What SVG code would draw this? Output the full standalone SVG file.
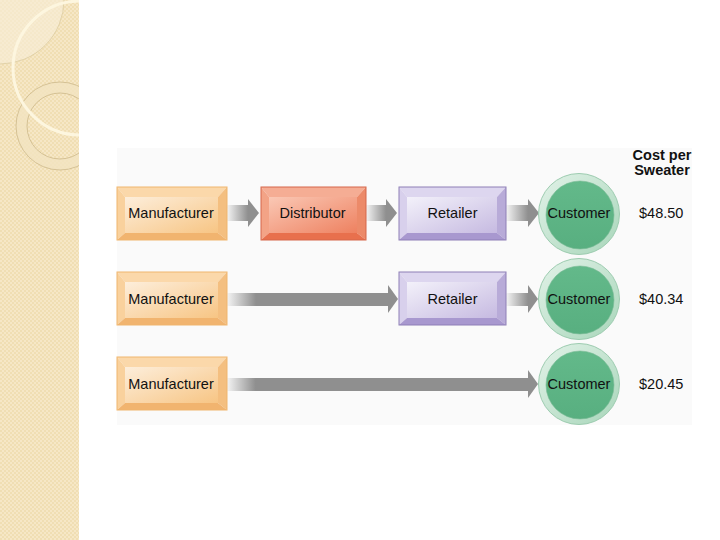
<svg xmlns="http://www.w3.org/2000/svg" xmlns:xlink="http://www.w3.org/1999/xlink" width="720" height="540" viewBox="0 0 720 540">
  <style>
    .lbl { font-family: "Liberation Sans", Arial, sans-serif; font-size: 14.5px; fill: #111111; }
    .mid { text-anchor: middle; }
    .hdr { font-family: "Liberation Sans", Arial, sans-serif; font-size: 14.5px; font-weight: bold; fill: #111; text-anchor: middle; }
    .m-top { fill: #fbd8aa; } .m-left { fill: #f9d19d; } .m-right { fill: #f4bf80; } .m-bot { fill: #f1b46f; } .m-out { fill: none; stroke: #efb56e; stroke-width: 1; }
    .d-top { fill: #f5ad94; } .d-left { fill: #f3a386; } .d-right { fill: #ec8a69; } .d-bot { fill: #e8704d; } .d-out { fill: none; stroke: #d5674a; stroke-width: 1; }
    .r-top { fill: #ddd6ef; } .r-left { fill: #d8d0ec; } .r-right { fill: #b8abd8; } .r-bot { fill: #a898cf; } .r-out { fill: none; stroke: #8e7fb6; stroke-width: 1; }
    .ring { fill: url(#ringG); stroke: #9dccb0; stroke-width: 1; }
    .core { fill: url(#coreG); stroke: #78bb95; stroke-width: 0.6; }
    .head { fill: #8f8f8f; }
  </style>
  <defs>
    <pattern id="check" width="4" height="4" patternUnits="userSpaceOnUse">
      <rect width="4" height="4" fill="#f0deb3"/>
      <rect width="2" height="2" fill="#f6e7c6"/>
      <rect x="2" y="2" width="2" height="2" fill="#f6e7c6"/>
    </pattern>
    <clipPath id="stripClip"><rect x="0" y="0" width="79" height="540"/></clipPath>
    <linearGradient id="mFace" x1="0" y1="0" x2="1" y2="1">
      <stop offset="0" stop-color="#fdeedb"/><stop offset="1" stop-color="#f7c584"/>
    </linearGradient>
    <linearGradient id="dFace" x1="0" y1="0" x2="1" y2="1">
      <stop offset="0" stop-color="#fac8b5"/><stop offset="1" stop-color="#ee8160"/>
    </linearGradient>
    <linearGradient id="rFace" x1="0" y1="0" x2="1" y2="1">
      <stop offset="0" stop-color="#f3f1fa"/><stop offset="1" stop-color="#c6bae1"/>
    </linearGradient>
    <linearGradient id="ringG" x1="0" y1="0" x2="1" y2="1">
      <stop offset="0" stop-color="#e2f2e8"/><stop offset="1" stop-color="#a8d6ba"/>
    </linearGradient>
    <linearGradient id="coreG" x1="0" y1="0" x2="0" y2="1">
      <stop offset="0" stop-color="#63b98a"/><stop offset="1" stop-color="#58af80"/>
    </linearGradient>
    <linearGradient id="shaftS" x1="0" y1="0" x2="1" y2="0">
      <stop offset="0" stop-color="#f4f4f4"/><stop offset="1" stop-color="#8f8f8f"/>
    </linearGradient>
    <linearGradient id="shaftM" x1="0" y1="0" x2="1" y2="0">
      <stop offset="0" stop-color="#f4f4f4"/><stop offset="0.18" stop-color="#8f8f8f"/><stop offset="1" stop-color="#8f8f8f"/>
    </linearGradient>
    <linearGradient id="shaftL" x1="0" y1="0" x2="1" y2="0">
      <stop offset="0" stop-color="#f4f4f4"/><stop offset="0.095" stop-color="#8f8f8f"/><stop offset="1" stop-color="#8f8f8f"/>
    </linearGradient>
    <symbol id="mfrBox" overflow="visible">
      <polygon class="m-top" points="0,0 110,0 101,10 8,10"/>
      <polygon class="m-left" points="0,0 8,10 8,46 0,53"/>
      <polygon class="m-right" points="110,0 110,53 101,46 101,10"/>
      <polygon class="m-bot" points="0,53 8,46 101,46 110,53"/>
      <rect x="8" y="10" width="93" height="36" fill="url(#mFace)"/>
      <rect class="m-out" x="0" y="0" width="110" height="53"/>
    </symbol>
    <symbol id="distBox" overflow="visible">
      <polygon class="d-top" points="0,0 105,0 96,10 8,10"/>
      <polygon class="d-left" points="0,0 8,10 8,46 0,53"/>
      <polygon class="d-right" points="105,0 105,53 96,46 96,10"/>
      <polygon class="d-bot" points="0,53 8,46 96,46 105,53"/>
      <rect x="8" y="10" width="88" height="36" fill="url(#dFace)"/>
      <rect class="d-out" x="0" y="0" width="105" height="53"/>
    </symbol>
    <symbol id="retBox" overflow="visible">
      <polygon class="r-top" points="0,0 107,0 98,10 8,10"/>
      <polygon class="r-left" points="0,0 8,10 8,46 0,53"/>
      <polygon class="r-right" points="107,0 107,53 98,46 98,10"/>
      <polygon class="r-bot" points="0,53 8,46 98,46 107,53"/>
      <rect x="8" y="10" width="90" height="36" fill="url(#rFace)"/>
      <rect class="r-out" x="0" y="0" width="107" height="53"/>
    </symbol>
    <symbol id="custCircle" overflow="visible">
      <circle class="ring" cx="0" cy="0" r="40.5"/>
      <circle class="core" cx="1" cy="1" r="34"/>
    </symbol>
  </defs>

  <rect width="720" height="540" fill="#ffffff"/>

  <!-- decorative left strip -->
  <g id="strip" clip-path="url(#stripClip)">
    <rect x="0" y="0" width="79" height="540" fill="url(#check)"/>
    <circle cx="0" cy="0" r="64" fill="#f8eed8" fill-opacity="0.6" stroke="#dccb9f" stroke-width="0.8"/>
    <path d="M60,82 a44,44 0 1,0 0.01,0 Z M60,93 a33,33 0 1,1 -0.01,0 Z" fill="#f3e4c0" fill-opacity="0.8" fill-rule="evenodd"/>
    <circle cx="60" cy="126" r="44" fill="none" stroke="#cdb98a" stroke-width="0.8"/>
    <circle cx="60" cy="126" r="33" fill="none" stroke="#cdb98a" stroke-width="0.8"/>
    <circle cx="80" cy="68" r="67" fill="none" stroke="#fdf6df" stroke-width="3"/>
  </g>

  <!-- diagram panel -->
  <rect x="117" y="148" width="575" height="277" fill="#fafafa"/>

  <!-- connectors -->
  <g id="connectors">
    <rect x="227" y="205" width="21" height="16" fill="url(#shaftS)"/>
    <polygon class="head" points="248,199 259,213 248,227"/>
    <rect x="366" y="205" width="20" height="16" fill="url(#shaftS)"/>
    <polygon class="head" points="386,199 397,213 386,227"/>
    <rect x="506" y="205" width="22" height="16" fill="url(#shaftS)"/>
    <polygon class="head" points="528,199 539,213 528,227"/>

    <rect x="227" y="293" width="161" height="13" fill="url(#shaftM)"/>
    <polygon class="head" points="388,285 398,299 388,313"/>
    <rect x="506" y="293" width="22" height="13" fill="url(#shaftS)"/>
    <polygon class="head" points="528,285 538,299 528,313"/>

    <rect x="227" y="378" width="301" height="13" fill="url(#shaftL)"/>
    <polygon class="head" points="528,370 538,384 528,398"/>
  </g>

  <!-- row 1 -->
  <g id="manufacturer-1">
    <use xlink:href="#mfrBox" x="117" y="187"/>
    <text class="lbl mid" x="171" y="218">Manufacturer</text>
  </g>
  <g id="distributor-1">
    <use xlink:href="#distBox" x="261" y="187"/>
    <text class="lbl mid" x="312.5" y="218">Distributor</text>
  </g>
  <g id="retailer-1">
    <use xlink:href="#retBox" x="399" y="187"/>
    <text class="lbl mid" x="452.5" y="218">Retailer</text>
  </g>
  <g id="customer-1">
    <use xlink:href="#custCircle" x="579" y="214"/>
    <text class="lbl mid" x="579" y="218">Customer</text>
  </g>

  <!-- row 2 -->
  <g id="manufacturer-2">
    <use xlink:href="#mfrBox" x="117" y="272"/>
    <text class="lbl mid" x="171" y="303.5">Manufacturer</text>
  </g>
  <g id="retailer-2">
    <use xlink:href="#retBox" x="399" y="272"/>
    <text class="lbl mid" x="452.5" y="303.5">Retailer</text>
  </g>
  <g id="customer-2">
    <use xlink:href="#custCircle" x="579" y="299"/>
    <text class="lbl mid" x="579" y="303.5">Customer</text>
  </g>

  <!-- row 3 -->
  <g id="manufacturer-3">
    <use xlink:href="#mfrBox" x="117" y="357"/>
    <text class="lbl mid" x="171" y="388.5">Manufacturer</text>
  </g>
  <g id="customer-3">
    <use xlink:href="#custCircle" x="579" y="384"/>
    <text class="lbl mid" x="579" y="388.5">Customer</text>
  </g>

  <!-- cost column -->
  <g id="cost-header">
    <text class="hdr" x="662" y="160">Cost per</text>
    <text class="hdr" x="662" y="175">Sweater</text>
  </g>
  <g id="costs">
    <text class="lbl" x="639" y="218">$48.50</text>
    <text class="lbl" x="639" y="303.5">$40.34</text>
    <text class="lbl" x="639" y="388.5">$20.45</text>
  </g>
</svg>
